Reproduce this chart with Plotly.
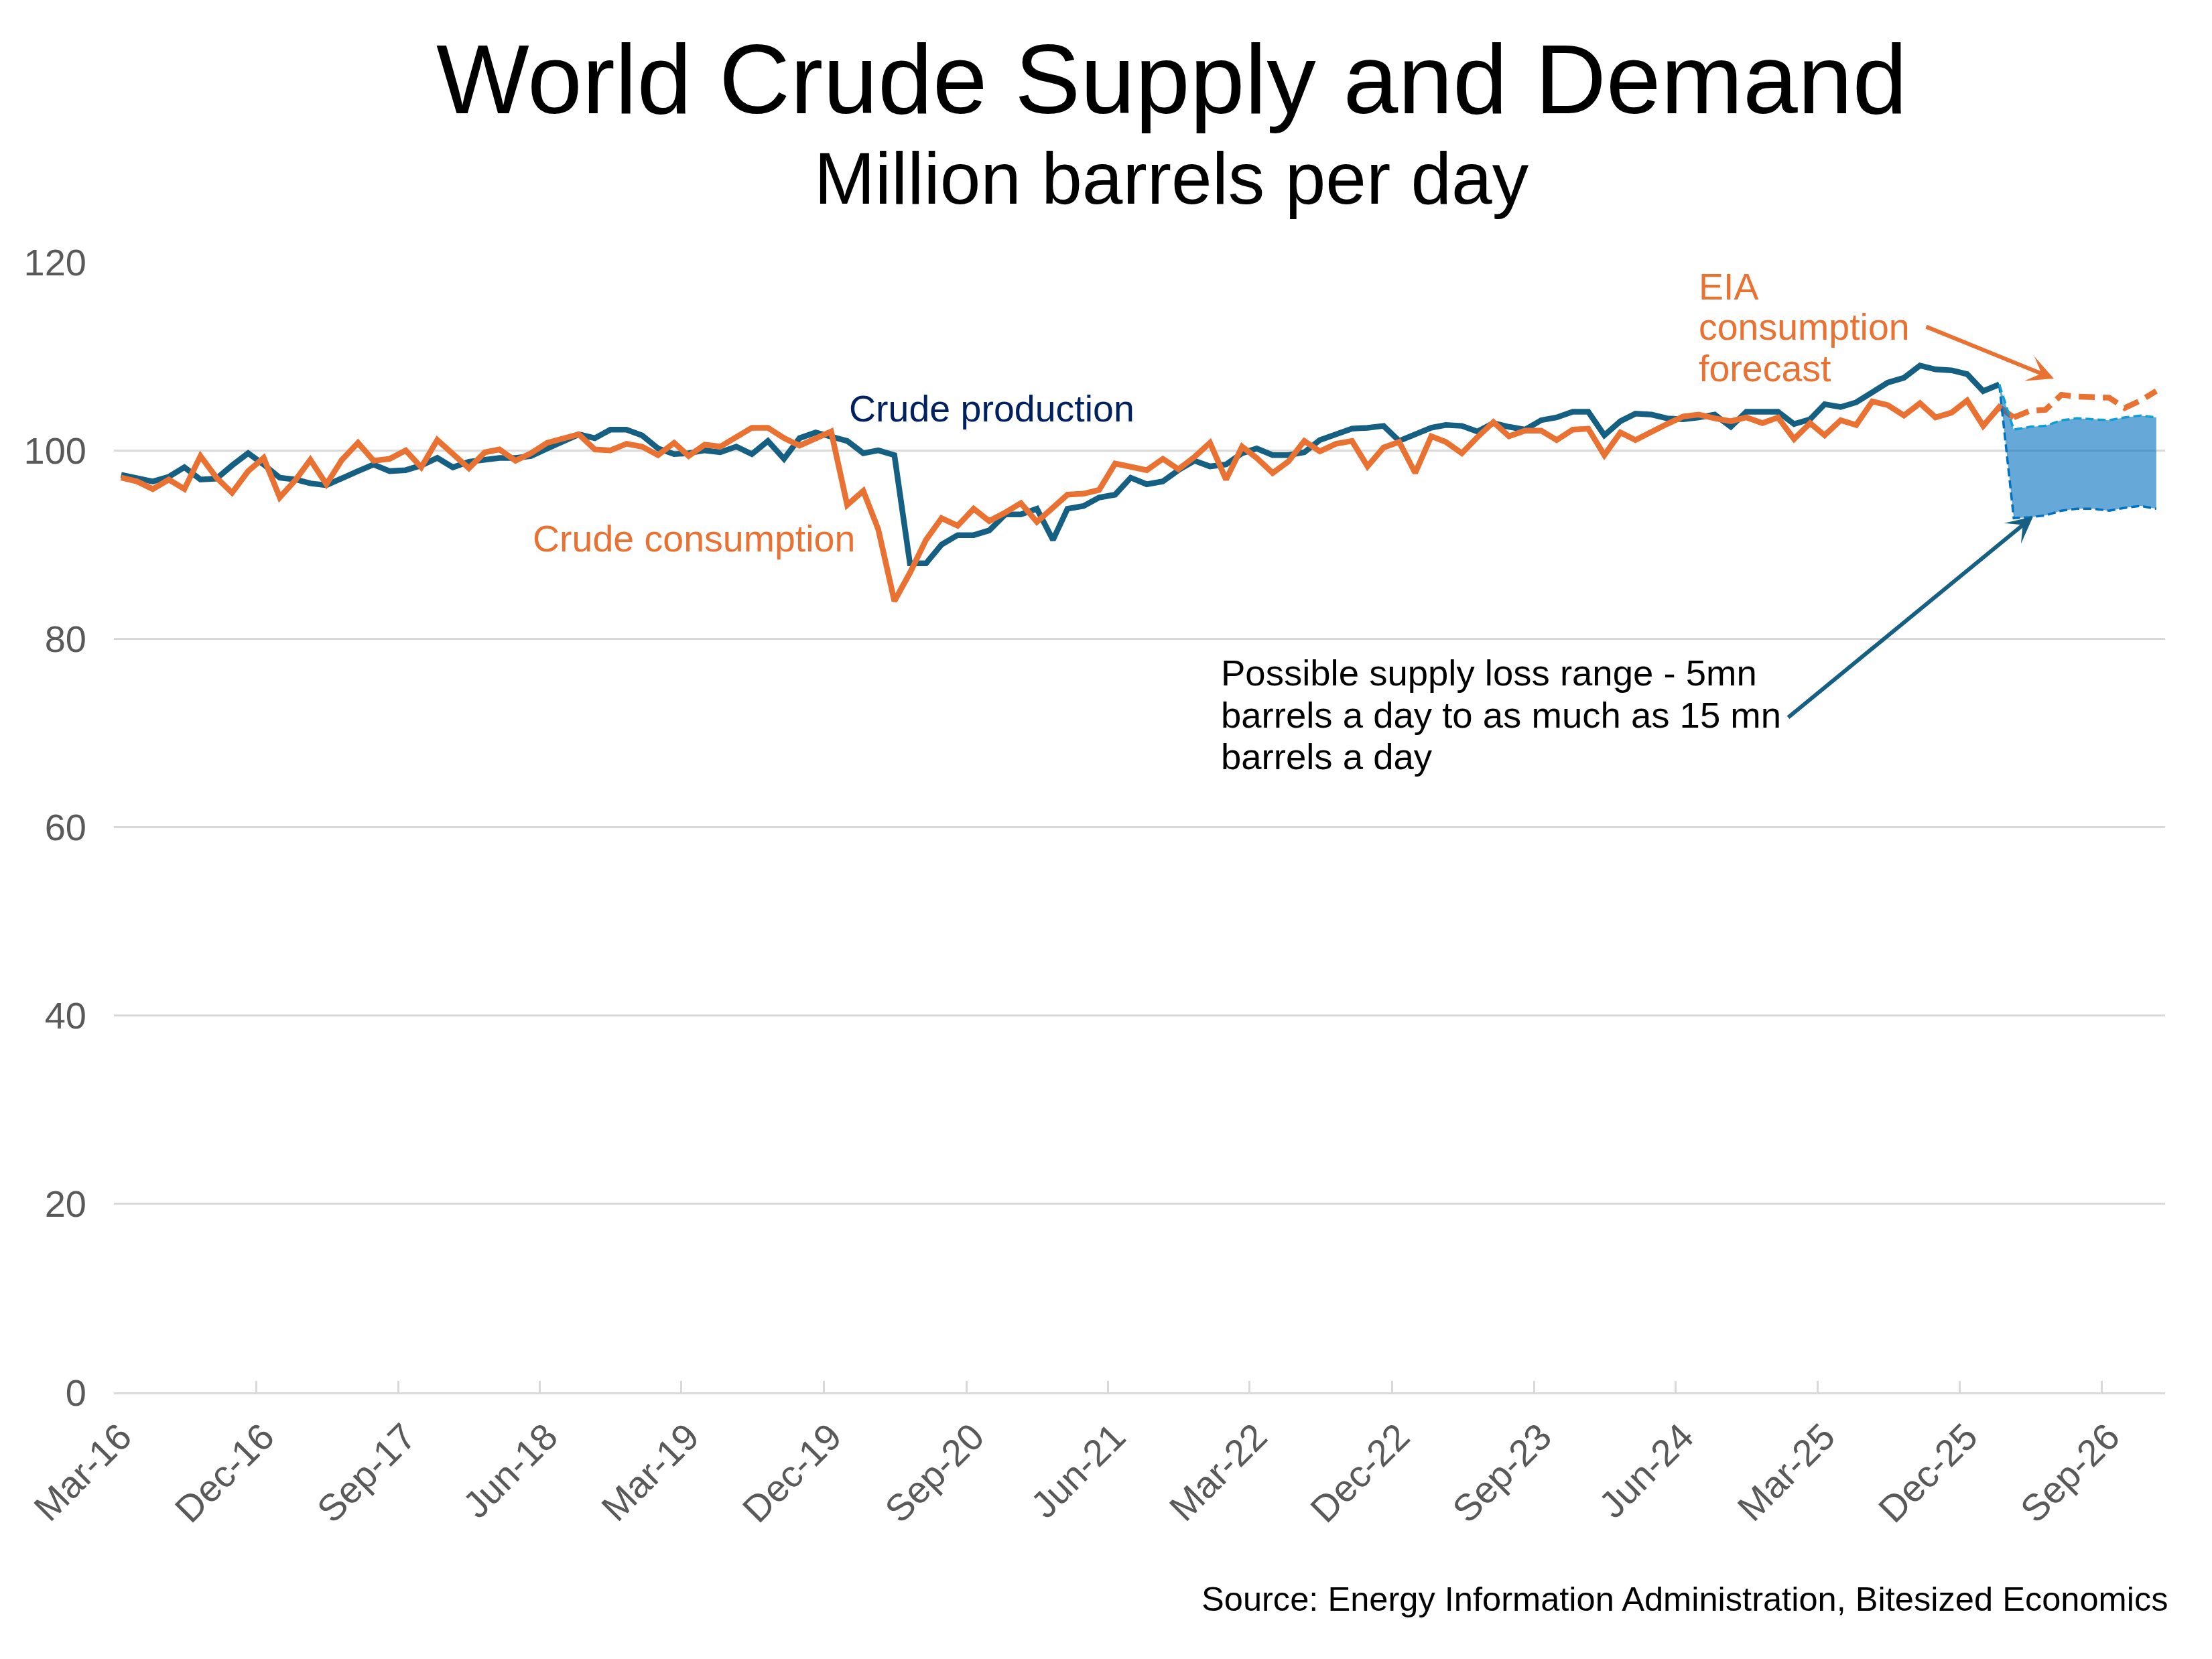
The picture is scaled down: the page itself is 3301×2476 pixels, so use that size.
import pandas as pd
import plotly.graph_objects as go

# ---------------------------------------------------------------------------
# Data (million barrels per day), monthly from Mar-2016
# ---------------------------------------------------------------------------
start_month = "2016-03-01"

production = [
    97.4, 97.1, 96.7, 97.2, 98.2, 96.9, 97.0, 98.4, 99.7, 98.5,
    97.1, 96.9, 96.5, 96.3, 97.1, 97.8, 98.5, 97.8, 97.9, 98.4,
    99.2, 98.2, 98.8, 99.0, 99.2, 99.2, 99.4, 100.2, 101.0, 101.7,
    101.3, 102.2, 102.2, 101.6, 100.2, 99.6, 99.7, 100.0, 99.8, 100.4,
    99.6, 101.0, 99.1, 101.3, 101.9, 101.5, 101.0, 99.7, 100.0, 99.5,
    88.0, 88.0, 90.0, 91.0, 91.0, 91.5, 93.2, 93.2, 93.8, 90.5,
    93.8, 94.1, 95.0, 95.3, 97.1, 96.4, 96.7, 97.9, 98.9, 98.3,
    98.5, 99.7, 100.2, 99.5, 99.5, 99.8, 101.1, 101.7, 102.3, 102.4,
    102.6, 101.0, 101.7, 102.4, 102.7, 102.6, 102.0, 102.9, 102.5, 102.2,
    103.2, 103.5, 104.1, 104.1, 101.6, 103.1, 103.9, 103.8, 103.4, 103.3,
    103.5, 103.8, 102.5, 104.1, 104.1, 104.1, 102.8, 103.3, 104.9, 104.6,
    105.1, 106.1, 107.2, 107.7, 109.0, 108.6, 108.5, 108.1, 106.3, 107.0,
]

consumption = [
    97.1, 96.7, 95.9, 96.9, 95.9, 99.4, 97.1, 95.5, 97.8, 99.2,
    95.0, 96.9, 99.0, 96.4, 99.0, 100.8, 98.9, 99.1, 100.0, 98.2,
    101.1, 99.6, 98.1, 99.8, 100.1, 98.9, 99.7, 100.8, 101.2, 101.7,
    100.1, 100.0, 100.7, 100.4, 99.5, 100.8, 99.4, 100.6, 100.4, 101.4,
    102.4, 102.4, 101.3, 100.5, 101.3, 102.0, 94.2, 95.7, 91.6, 84.0,
    87.0, 90.5, 92.8, 92.0, 93.8, 92.5, 93.4, 94.4, 92.4, 93.9,
    95.3, 95.4, 95.8, 98.6, 98.3, 97.9, 99.1, 98.0, 99.3, 100.8,
    96.9, 100.4, 99.2, 97.6, 98.8, 101.0, 99.9, 100.7, 101.0, 98.3,
    100.3, 100.9, 97.6, 101.5, 100.9, 99.7, 101.4, 103.0, 101.5, 102.1,
    102.1, 101.1, 102.2, 102.3, 99.5, 101.9, 101.1, 102.0, 102.8, 103.6,
    103.8, 103.4, 103.1, 103.5, 102.9, 103.5, 101.2, 102.9, 101.6, 103.2,
    102.7, 105.2, 104.8, 103.7, 105.0, 103.5, 104.0, 105.3, 102.6, 104.6,
    103.5,
]

# EIA consumption forecast (from the last actual month onward)
forecast = [103.5, 104.2, 104.3, 105.9, 105.7, 105.6, 105.6, 104.5, 105.3, 106.3]

# supply-loss range (from the last production month onward)
supply_high = [107.0, 102.2, 102.5, 102.6, 103.2, 103.4, 103.3, 103.2, 103.5, 103.7, 103.5]
supply_low = [107.0, 92.8, 92.9, 93.1, 93.6, 93.8, 93.8, 93.6, 93.9, 94.1, 93.8]

# points sit mid-month, ticks at month start (Excel date axis look)
n_total = len(consumption) + len(forecast) - 1
months = pd.date_range(start_month, periods=n_total, freq="MS") + pd.Timedelta(days=14)
prod_x = months[:len(production)]
cons_x = months[:len(consumption)]
fc_x = months[len(consumption) - 1:]
rng_x = months[len(production) - 1:]

BLUE = "#156082"
ORANGE = "#E97132"
NAVY = "#002060"
GREY = "#595959"
GRID = "#D9D9D9"
FONT = "Liberation Sans, Arial, sans-serif"

# page is 3301x2476; the browser body adds an 8px margin
PAGE_W, PAGE_H, OFF = 3301, 2476, 8
W, H = PAGE_W - 2 * OFF, PAGE_H - 2 * OFF
# plot box in page pixels
L, R, T, B = 170, 3231, 391, 2078


def paper(x, y):
    return (x - L) / (R - L), (B - y) / (B - T)


fig = go.Figure()
fig.add_trace(go.Scatter(x=prod_x, y=production, mode="lines",
                         line=dict(color=BLUE, width=8.5), name="Crude production"))
fig.add_trace(go.Scatter(x=cons_x, y=consumption, mode="lines",
                         line=dict(color=ORANGE, width=8.5), name="Crude consumption"))
fig.add_trace(go.Scatter(x=rng_x, y=supply_low, mode="lines",
                         line=dict(color="#0070C0", width=3.5, dash="12px,6px"),
                         name="Supply loss 15mn"))
fig.add_trace(go.Scatter(x=rng_x, y=supply_high, mode="lines", fill="tonexty",
                         fillcolor="rgba(0,112,192,0.6)",
                         line=dict(color="#0F9ED5", width=3.5, dash="12px,6px"),
                         name="Supply loss 5mn"))
fig.add_trace(go.Scatter(x=fc_x, y=forecast, mode="lines",
                         line=dict(color=ORANGE, width=8.5, dash="24px,12px"),
                         name="EIA consumption forecast"))

notes = []


def text(s, x, y, size, color, anchor="left"):
    px_, py_ = paper(x, y)
    notes.append(dict(text=s, x=px_, y=py_, xref="paper", yref="paper",
                      xanchor=anchor, yanchor="middle", showarrow=False,
                      font=dict(family=FONT, size=size, color=color)))


text("World Crude Supply and Demand", 1748, 118, 147, "black", "center")
text("Million barrels per day", 1748, 266, 109, "black", "center")
text("Crude production", 1265, 610, 55.5, NAVY)
text("Crude consumption", 793, 804, 55.5, ORANGE)
for s, y in [("EIA", 428), ("consumption", 488), ("forecast", 550)]:
    text(s, 2533, y, 55.5, ORANGE)
for s, y in [("Possible supply loss range - 5mn", 1004),
             ("barrels a day to as much as 15 mn", 1067),
             ("barrels a day", 1129)]:
    text(s, 1820, y, 54.5, "black")
text("Source: Energy Information Administration, Bitesized Economics",
     3238, 2386, 50.6, "black", "right")


def arrow(tail, head, color, width):
    hx, hy = paper(*head)
    notes.append(dict(text="", x=hx, y=hy, xref="paper", yref="paper",
                      ax=tail[0] - head[0], ay=tail[1] - head[1],
                      showarrow=True, arrowhead=3, arrowsize=1.1,
                      arrowwidth=width, arrowcolor=color, standoff=0))


arrow((2873, 487), (3065, 565), ORANGE, 6)
arrow((2667, 1072), (3034, 771), BLUE, 6)

fig.update_layout(
    width=W, height=H, autosize=False,
    margin=dict(l=L - OFF, r=W - (R - OFF), t=T - OFF, b=H - (B - OFF)),
    paper_bgcolor="white", plot_bgcolor="white",
    showlegend=False,
    font=dict(family=FONT, color=GREY),
    annotations=notes,
    xaxis=dict(
        type="date", range=["2016-03-01", "2027-01-01"],
        tick0="2016-03-01", dtick="M9", tickformat="%b-%y",
        tickangle=-45, tickfont=dict(size=56, color=GREY),
        ticks="inside", ticklen=17, tickwidth=3, tickcolor=GRID,
        ticklabelshift=10, ticklabelstandoff=8,
        showline=True, linecolor=GRID, linewidth=3,
        showgrid=False, zeroline=False, automargin=False,
    ),
    yaxis=dict(
        range=[0, 120], dtick=20, tickfont=dict(size=56, color=GREY),
        showgrid=True, gridcolor=GRID, gridwidth=3,
        zeroline=False, showline=False, ticks="",
        ticklabelstandoff=40, automargin=False,
    ),
)

fig.write_html("out.html")
